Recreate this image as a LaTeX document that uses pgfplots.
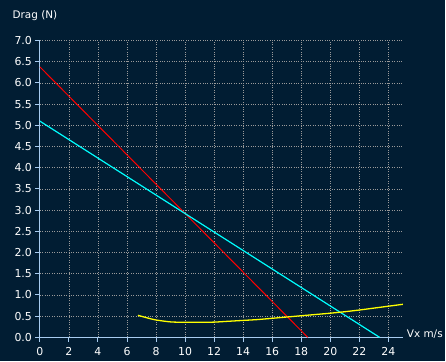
\documentclass[border=0pt]{standalone}
\usepackage{fontspec}
\setmainfont{DejaVu Sans}
\usepackage{pgfplots}
\pgfplotsset{compat=1.18}
\definecolor{bg}{HTML}{011D33}
\definecolor{axblue}{HTML}{A8CCF0}
\definecolor{gridgray}{HTML}{9A9A9A}
\definecolor{lred}{HTML}{FF0000}
\definecolor{lcyan}{HTML}{00FFFF}
\definecolor{lyellow}{HTML}{FFFF00}
\begin{document}
\begin{tikzpicture}[x=1bp,y=1bp]
\fill[bg] (-40,-23.7) rectangle (406,338.3);
\begin{axis}[
  at={(0,0)}, anchor=south west,
  scale only axis, width=364bp, height=297.6bp,
  xmin=0, xmax=25, ymin=0, ymax=7,
  axis x line=bottom, axis y line=left,
  axis line style={-, axblue, line width=1bp},
  xtick={0,2,...,24}, ytick={0,0.5,...,7},
  tick align=outside, major tick length=4.5bp,
  tick style={axblue, line width=1bp},
  grid=major,
  major grid style={gridgray, line width=0.8bp, dash pattern=on 1bp off 1.4bp},
  /pgf/number format/assume math mode=true,
  ticklabel style={font=\fontsize{11}{13}\selectfont, text=white},
  yticklabel style={/pgf/number format/.cd, fixed, fixed zerofill, precision=1},
  xticklabel style={yshift=-2bp, /pgf/number format/.cd, fixed, precision=0},
  clip=false,
]
\addplot[lred, line width=1bp] coordinates {(0,6.38) (18.45,0)};
\addplot[lcyan, line width=1.2bp] coordinates {(0,5.1) (23.4,0)};
\addplot[lyellow, line width=1.3bp, smooth] coordinates {
(6.75,0.52) (7.5,0.45) (8,0.41) (9,0.365) (10,0.355) (11,0.355) (12,0.36) (13,0.38) (14,0.40) (15,0.42) (16,0.45) (17,0.48) (18,0.51) (19,0.54) (20,0.57) (21,0.605) (22,0.645) (23,0.69) (24,0.735) (25,0.78)};
\end{axis}
\node[text=white, font=\fontsize{10.5}{12}\selectfont, anchor=center] at (-5,323) {Drag (N)};
\node[text=white, font=\fontsize{10.5}{12}\selectfont, anchor=center] at (386,3) {Vx m/s};
\end{tikzpicture}
\end{document}
